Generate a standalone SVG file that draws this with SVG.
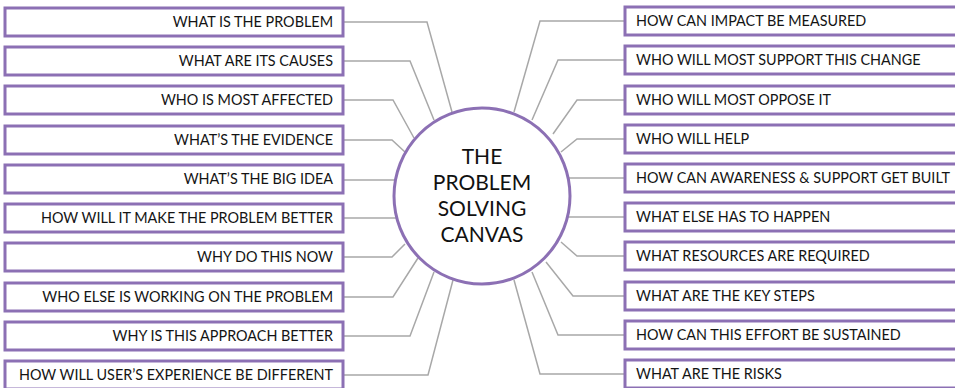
<svg xmlns="http://www.w3.org/2000/svg" width="955" height="388" viewBox="0 0 955 388">
<style>
.box{fill:#fff;stroke:#8c70b4;stroke-width:3}
.c{fill:none;stroke:#a8a8a8;stroke-width:1.5}
.t{font-family:Lato,"Liberation Sans",sans-serif;font-size:14.4px;fill:#141414}
.l{text-anchor:end}
.ct{font-family:Lato,"Liberation Sans",sans-serif;font-size:21px;fill:#111;text-anchor:middle}
</style>
<rect width="955" height="388" fill="#fff"/>
<g id="connectors">
<polyline class="c" points="343,22 427,22 452,112"/>
<polyline class="c" points="343,61 410,61 434,120"/>
<polyline class="c" points="343,100 393,100 414,138"/>
<polyline class="c" points="343,140 392,140 405,152"/>
<polyline class="c" points="343,180 400,180"/>
<polyline class="c" points="343,218 400,218"/>
<polyline class="c" points="343,257 392,257 405,244"/>
<polyline class="c" points="343,297 393,297 418,258"/>
<polyline class="c" points="343,336 410,336 434,272"/>
<polyline class="c" points="343,375 428,375 453,280"/>
<polyline class="c" points="625,21 540,21 514,112"/>
<polyline class="c" points="625,60 558,60 532,120"/>
<polyline class="c" points="625,100 577,100 553,134"/>
<polyline class="c" points="625,139 577,139 561,152"/>
<polyline class="c" points="625,178 565,178"/>
<polyline class="c" points="625,217 565,217"/>
<polyline class="c" points="625,256 577,256 561,242"/>
<polyline class="c" points="625,296 573,296 546,262"/>
<polyline class="c" points="625,335 558,335 532,272"/>
<polyline class="c" points="625,374 540,374 514,280"/>
</g>
<g id="center">
<circle cx="482" cy="196" r="88" fill="#fff" stroke="#8c70b4" stroke-width="3"/>
<text class="ct" x="482" y="164">THE</text>
<text class="ct" x="482" y="190">PROBLEM</text>
<text class="ct" x="482" y="216">SOLVING</text>
<text class="ct" x="482" y="242">CANVAS</text>
</g>
<g id="L1"><rect class="box" x="5" y="8" width="338" height="28"/><text class="t l" x="333" y="27">WHAT IS THE PROBLEM</text></g>
<g id="L2"><rect class="box" x="5" y="47" width="338" height="28"/><text class="t l" x="333" y="66">WHAT ARE ITS CAUSES</text></g>
<g id="L3"><rect class="box" x="5" y="86" width="338" height="28"/><text class="t l" x="333" y="105">WHO IS MOST AFFECTED</text></g>
<g id="L4"><rect class="box" x="5" y="126" width="338" height="28"/><text class="t l" x="333" y="145">WHAT’S THE EVIDENCE</text></g>
<g id="L5"><rect class="box" x="5" y="165" width="338" height="28"/><text class="t l" x="333" y="184">WHAT’S THE BIG IDEA</text></g>
<g id="L6"><rect class="box" x="5" y="204" width="338" height="28"/><text class="t l" x="333" y="223">HOW WILL IT MAKE THE PROBLEM BETTER</text></g>
<g id="L7"><rect class="box" x="5" y="243" width="338" height="28"/><text class="t l" x="333" y="262">WHY DO THIS NOW</text></g>
<g id="L8"><rect class="box" x="5" y="283" width="338" height="28"/><text class="t l" x="333" y="302">WHO ELSE IS WORKING ON THE PROBLEM</text></g>
<g id="L9"><rect class="box" x="5" y="322" width="338" height="28"/><text class="t l" x="333" y="341">WHY IS THIS APPROACH BETTER</text></g>
<g id="L10"><rect class="box" x="5" y="361" width="338" height="28"/><text class="t l" x="333" y="380">HOW WILL USER’S EXPERIENCE BE DIFFERENT</text></g>
<g id="R1"><rect class="box" x="625" y="7" width="335" height="28"/><text class="t" x="636" y="26">HOW CAN IMPACT BE MEASURED</text></g>
<g id="R2"><rect class="box" x="625" y="46" width="335" height="28"/><text class="t" x="636" y="65">WHO WILL MOST SUPPORT THIS CHANGE</text></g>
<g id="R3"><rect class="box" x="625" y="86" width="335" height="28"/><text class="t" x="636" y="105">WHO WILL MOST OPPOSE IT</text></g>
<g id="R4"><rect class="box" x="625" y="125" width="335" height="28"/><text class="t" x="636" y="144">WHO WILL HELP</text></g>
<g id="R5"><rect class="box" x="625" y="164" width="335" height="28"/><text class="t" x="636" y="183">HOW CAN AWARENESS &amp; SUPPORT GET BUILT</text></g>
<g id="R6"><rect class="box" x="625" y="203" width="335" height="28"/><text class="t" x="636" y="222">WHAT ELSE HAS TO HAPPEN</text></g>
<g id="R7"><rect class="box" x="625" y="242" width="335" height="28"/><text class="t" x="636" y="261">WHAT RESOURCES ARE REQUIRED</text></g>
<g id="R8"><rect class="box" x="625" y="282" width="335" height="28"/><text class="t" x="636" y="301">WHAT ARE THE KEY STEPS</text></g>
<g id="R9"><rect class="box" x="625" y="321" width="335" height="28"/><text class="t" x="636" y="340">HOW CAN THIS EFFORT BE SUSTAINED</text></g>
<g id="R10"><rect class="box" x="625" y="360" width="335" height="28"/><text class="t" x="636" y="379">WHAT ARE THE RISKS</text></g>
</svg>
